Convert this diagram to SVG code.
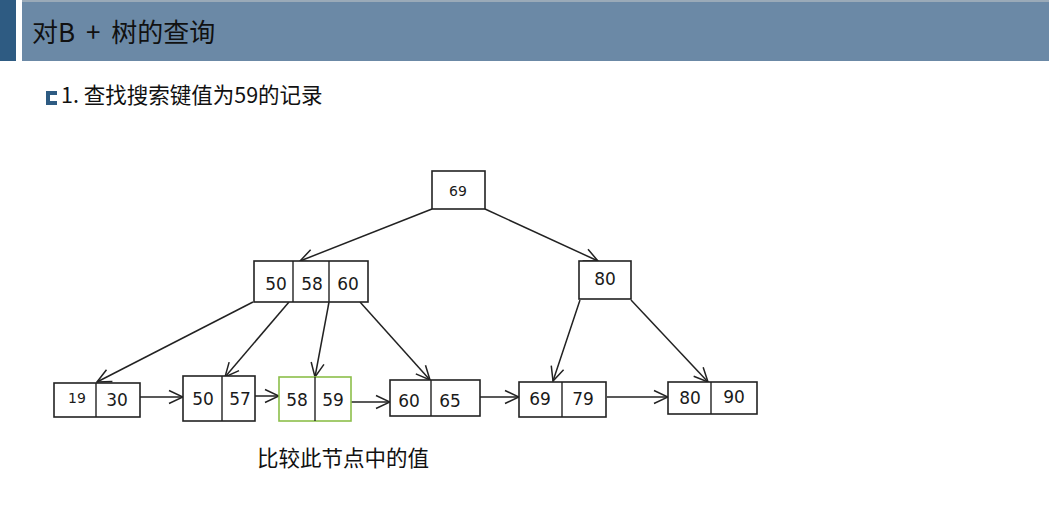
<svg xmlns="http://www.w3.org/2000/svg" width="1049" height="519" viewBox="0 0 1049 519">
<style>
.box{fill:#fff;stroke:#222;stroke-width:1.6}
.div{stroke:#222;stroke-width:1.4}
.green{stroke:#8cbf4a}
.num{font-family:"DejaVu Sans","Liberation Sans",sans-serif;font-size:17px;fill:#1a1a1a;text-anchor:middle;dominant-baseline:central}
.sm{font-size:14px}
.cn{font-family:"Noto Sans CJK SC","Noto Sans",sans-serif;fill:#111}
.edge{stroke:#222;stroke-width:1.5;fill:none;marker-end:url(#arr)}
</style>
<defs>
<marker id="arr" markerUnits="userSpaceOnUse" markerWidth="16" markerHeight="16" viewBox="0 0 16 16" refX="15" refY="8" orient="auto">
<path d="M1,1.5 L15,8 L1,14.5" fill="none" stroke="#222" stroke-width="1.5"/>
</marker>
</defs>
<rect width="1049" height="519" fill="#fff"/>
<g id="header">
<rect x="0" y="0" width="16" height="61" fill="#2e5b82"/>
<rect x="22" y="0" width="1027" height="61" fill="#6b89a6"/>
<rect x="22" y="0" width="1027" height="2" fill="#9aaab8"/>
<text class="cn" x="32" y="42" font-size="26" word-spacing="5">对B + 树的查询</text>
</g>
<g id="subtitle">
<path d="M46,91 H57 V95 H50 V101 H57 V105 H46 Z" fill="#2e5b82"/>
<text class="cn" x="61" y="103" font-size="21.5">1. 查找搜索键值为59的记录</text>
</g>
<g id="connectors">
<line class="edge" x1="432" y1="209" x2="300" y2="261"/>
<line class="edge" x1="485" y1="209" x2="598" y2="261"/>
<line class="edge" x1="253" y1="302" x2="97" y2="382"/>
<line class="edge" x1="289" y1="302" x2="225" y2="377"/>
<line class="edge" x1="329" y1="302" x2="315" y2="377"/>
<line class="edge" x1="360" y1="302" x2="430" y2="380"/>
<line class="edge" x1="580" y1="300" x2="553" y2="381"/>
<line class="edge" x1="631" y1="300" x2="708" y2="382"/>
<line class="edge" x1="140" y1="397" x2="183" y2="397"/>
<line class="edge" x1="255" y1="396" x2="279" y2="396"/>
<line class="edge" x1="351" y1="402" x2="390" y2="402"/>
<line class="edge" x1="480" y1="397" x2="519" y2="397"/>
<line class="edge" x1="607" y1="397" x2="668" y2="397"/>
</g>
<g id="root">
<rect class="box" x="432" y="171" width="53" height="38"/>
<text class="num sm" x="458" y="191">69</text>
</g>
<g id="inner-left">
<rect class="box" x="254" y="261" width="114" height="41"/>
<line class="div" x1="293" y1="261" x2="293" y2="302"/>
<line class="div" x1="329" y1="261" x2="329" y2="302"/>
<text class="num" x="276" y="284">50</text>
<text class="num" x="312" y="284">58</text>
<text class="num" x="348" y="284">60</text>
</g>
<g id="inner-right">
<rect class="box" x="579" y="261" width="52" height="38"/>
<text class="num" x="605" y="279">80</text>
</g>
<g id="leaf-19-30">
<rect class="box" x="54" y="383" width="86" height="34"/>
<line class="div" x1="96" y1="383" x2="96" y2="417"/>
<text class="num sm" x="77" y="398">19</text>
<text class="num" x="117" y="400">30</text>
</g>
<g id="leaf-50-57">
<rect class="box" x="183" y="376" width="72" height="45"/>
<line class="div" x1="222" y1="376" x2="222" y2="421"/>
<text class="num" x="203" y="399">50</text>
<text class="num" x="240" y="399">57</text>
</g>
<g id="leaf-58-59">
<rect class="box green" x="279" y="377" width="72" height="44"/>
<line class="div" x1="315" y1="377" x2="315" y2="421"/>
<text class="num" x="297" y="400">58</text>
<text class="num" x="333" y="400">59</text>
</g>
<g id="leaf-60-65">
<rect class="box" x="390" y="380" width="90" height="36"/>
<line class="div" x1="431" y1="380" x2="431" y2="416"/>
<text class="num" x="409" y="401">60</text>
<text class="num" x="450" y="401">65</text>
</g>
<g id="leaf-69-79">
<rect class="box" x="519" y="382" width="87" height="35"/>
<line class="div" x1="562" y1="382" x2="562" y2="417"/>
<text class="num" x="540" y="399">69</text>
<text class="num" x="583" y="399">79</text>
</g>
<g id="leaf-80-90">
<rect class="box" x="668" y="382" width="89" height="32"/>
<line class="div" x1="711" y1="382" x2="711" y2="414"/>
<text class="num" x="690" y="398">80</text>
<text class="num" x="734" y="397">90</text>
</g>
<g id="caption">
<text class="cn" x="257" y="466" font-size="21.5">比较此节点中的值</text>
</g>
</svg>
